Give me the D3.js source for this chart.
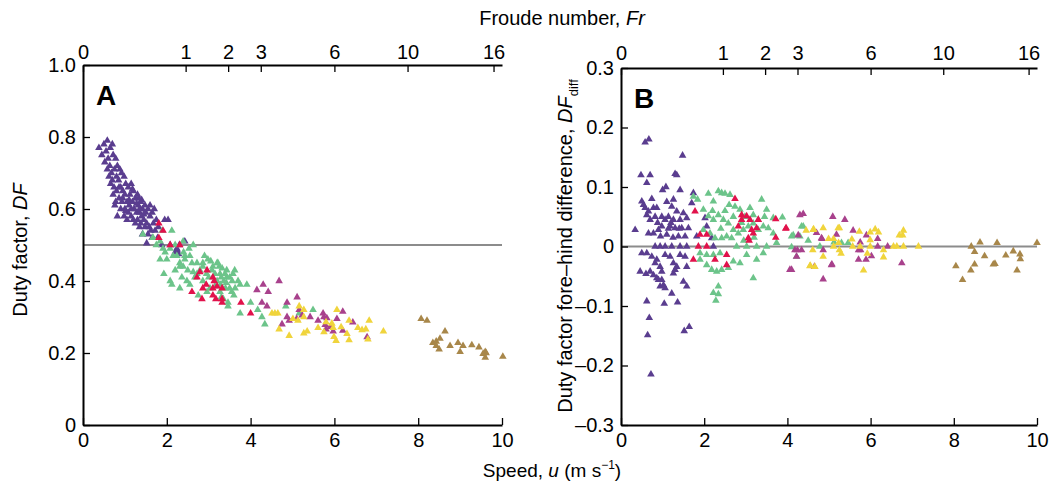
<!DOCTYPE html>
<html>
<head>
<meta charset="utf-8">
<script src="https://cdn.jsdelivr.net/npm/d3@7"></script>
<style>
  body { margin: 0; background: #fff; }
  svg text { font-family: "Liberation Sans", Arial, Helvetica, sans-serif; }
</style>
</head>
<body>
<svg id="chart" width="1052" height="482"></svg>
<script>
// Froude ticks on top axis, Fr = u^2 / (g h), g*h
var froudeTicks = [0, 1, 2, 3, 6, 10, 16]
var ghConst = 6.0
var speedTicks = [0, 2, 4, 6, 8, 10]
var dfTicks = [0, 0.2, 0.4, 0.6, 0.8, 1.0]
var diffTicks = [-0.3, -0.2, -0.1, 0, 0.1, 0.2, 0.3]

var groupColors = ["#5a3d8f", "#6cc48a", "#e1124b", "#a8418c", "#f0d43c", "#a8874a"]

// panel A: [speed, duty factor]
var purpleA = [[0.38,0.77],[0.5,0.78],[0.58,0.79],[0.65,0.77],[0.45,0.75],[0.55,0.76],[0.7,0.78],[0.6,0.74],[0.72,0.75],[0.52,0.73],
  [0.64,0.72],[0.78,0.74],[0.82,0.72],[0.68,0.7],[0.58,0.71],[0.75,0.71],[0.88,0.71],[0.62,0.69],[0.8,0.69],[0.92,0.7],
  [0.7,0.68],[0.85,0.68],[0.98,0.69],[0.74,0.66],[0.9,0.66],[1.02,0.67],[0.66,0.67],[0.8,0.65],[0.95,0.65],[1.08,0.66],
  [1.15,0.67],[0.72,0.64],[0.86,0.63],[1.0,0.64],[1.12,0.64],[1.2,0.65],[0.78,0.62],[0.93,0.62],[1.05,0.62],[1.18,0.62],
  [1.25,0.63],[1.3,0.64],[0.76,0.61],[0.82,0.58],[0.9,0.6],[1.0,0.6],[1.1,0.61],[1.22,0.6],[1.32,0.61],[1.38,0.62],
  [0.98,0.58],[1.08,0.59],[1.15,0.58],[1.28,0.59],[1.35,0.59],[1.42,0.6],[1.48,0.61],[1.2,0.57],[1.3,0.57],[1.4,0.58],
  [1.5,0.59],[1.55,0.6],[1.05,0.57],[1.25,0.56],[1.38,0.56],[1.45,0.57],[1.52,0.56],[1.6,0.58],[1.65,0.59],[1.35,0.55],
  [1.48,0.55],[1.58,0.55],[1.68,0.56],[1.75,0.57],[1.42,0.53],[1.55,0.53],[1.62,0.54],[1.72,0.54],[1.8,0.55],[1.95,0.57],
  [2.03,0.57],[1.52,0.505],[1.65,0.52],[1.78,0.52],[2.08,0.5],[2.24,0.49],[2.3,0.5],[2.43,0.51],[1.88,0.5],[1.15,0.6],
  [0.95,0.63],[1.18,0.655],[0.86,0.66],[1.28,0.615],[1.1,0.625],[1.35,0.6],[1.45,0.585],[1.02,0.595],[2.2,0.48],[2.25,0.485],
  [2.28,0.475],[1.4,0.625],[1.33,0.63],[1.6,0.61],[1.7,0.6]]
var greenA = [[1.43,0.53],[1.67,0.52],[1.84,0.51],[1.96,0.48],[2.15,0.47],[2.31,0.44],[2.43,0.47],[2.86,0.45],[3.22,0.45],[2.72,0.42],
  [1.84,0.46],[1.93,0.42],[2.12,0.39],[2.31,0.38],[3.75,0.39],[3.91,0.39],[3.75,0.31],[4.17,0.32],[4.27,0.3],[4.34,0.28],
  [4.84,0.33],[5.16,0.31],[5.49,0.32],[3.46,0.34],[2.72,0.45],[2.98,0.46],[3.2,0.45],[3.43,0.43],[3.58,0.42],[3.27,0.42],
  [3.5,0.38],[2.55,0.39],[2.75,0.36],[3.35,0.35],[2.67,0.41],[2.39,0.44],[2.43,0.46],[2.55,0.47],[2.08,0.49],[1.91,0.49],
  [2.53,0.49],[2.63,0.5],[1.67,0.52],[2.12,0.54],[1.89,0.54],[2.39,0.51],[2.24,0.47],[2.31,0.45],[2.2,0.43],[2.86,0.44],
  [3.08,0.43],[2.86,0.4],[3.03,0.38],[3.43,0.41],[3.2,0.4],[3.56,0.4],[3.63,0.38],[3.27,0.37],[3.46,0.33],[2.96,0.37],
  [2.48,0.4],[2.36,0.41],[2.08,0.4],[2.79,0.43],[2.63,0.425],[3.32,0.435],[3.39,0.42],[3.15,0.42],[3.3,0.41],[3.36,0.40],
  [3.42,0.395],[3.5,0.41],[3.28,0.39],[3.4,0.38],[3.55,0.37],[3.6,0.36],[3.1,0.44],[3.0,0.41],[2.2,0.5],[2.0,0.46],
  [2.5,0.43],[2.6,0.45],[2.4,0.48],[3.25,0.44],[3.62,0.43],[3.7,0.4],[2.9,0.47],[3.05,0.455],[4.0,0.34],[3.3,0.355],
  [2.95,0.42],[3.15,0.385],[1.75,0.5]]
var redA = [[1.81,0.56],[1.91,0.54],[1.81,0.52],[2.08,0.5],[2.31,0.5],[2.79,0.425],[2.96,0.43],[2.72,0.41],[3.1,0.41],[2.94,0.39],
  [2.86,0.38],[3.1,0.38],[3.2,0.385],[3.32,0.38],[2.6,0.37],[3.1,0.36],[2.84,0.35],[3.17,0.35],[3.32,0.35],[3.32,0.34],
  [3.77,0.34],[4.0,0.31],[3.13,0.4]]
var magentaA = [[4.68,0.4],[4.15,0.375],[4.3,0.39],[4.42,0.37],[4.27,0.34],[4.39,0.33],[4.87,0.34],[5.11,0.355],[5.16,0.32],[4.87,0.3],
  [4.92,0.29],[4.75,0.28],[5.23,0.305],[5.42,0.3],[5.73,0.31],[5.75,0.3],[5.61,0.29],[5.82,0.297],[6.06,0.295],[6.2,0.315],
  [6.44,0.285],[5.78,0.278],[5.9,0.273],[5.8,0.266],[5.97,0.26],[6.2,0.262],[6.78,0.244],[5.1,0.295]]
var yellowA = [[4.51,0.31],[4.65,0.31],[4.58,0.31],[5.16,0.33],[5.27,0.32],[5.01,0.295],[5.13,0.29],[5.27,0.3],[4.68,0.266],[4.92,0.248],
  [5.27,0.255],[5.35,0.26],[5.61,0.27],[5.75,0.258],[5.94,0.282],[5.97,0.27],[6.06,0.32],[6.16,0.272],[6.3,0.253],[6.35,0.29],
  [6.56,0.27],[6.66,0.264],[6.75,0.266],[6.83,0.29],[7.17,0.26],[5.99,0.245],[6.04,0.234],[6.35,0.236],[6.8,0.238],[5.8,0.286]]
var brownA = [[8.07,0.295],[8.21,0.29],[8.64,0.26],[8.52,0.24],[8.35,0.228],[8.43,0.232],[8.43,0.22],[8.5,0.21],[8.76,0.22],[8.95,0.228],
  [9.07,0.22],[9.0,0.203],[9.28,0.222],[9.45,0.216],[9.6,0.203],[9.62,0.2],[9.55,0.198],[9.6,0.187],[10.02,0.19]]

// panel B: [speed, fore-hind duty factor difference]
var purpleB = [[0.34,0.028],[0.48,0.12],[0.58,0.175],[0.67,0.18],[0.7,0.12],[0.62,0.107],[0.5,0.076],[0.54,0.07],[0.58,0.065],[0.66,0.059],
  [0.78,0.065],[0.86,0.065],[0.62,0.053],[0.7,0.045],[0.82,0.05],[0.66,0.022],[0.78,0.022],[0.9,0.028],[0.98,0.034],[1.06,0.045],
  [1.14,0.05],[0.98,0.05],[1.08,0.1],[1.0,0.095],[1.3,0.122],[1.34,0.12],[1.48,0.153],[1.42,0.095],[1.26,0.079],[1.22,0.067],
  [1.34,0.059],[1.5,0.056],[1.58,0.048],[1.42,0.045],[1.26,0.045],[1.18,0.034],[1.3,0.031],[1.46,0.031],[1.62,0.031],[1.38,0.017],
  [1.54,0.017],[1.1,0.02],[0.95,0.017],[1.74,0.09],[1.7,0.073],[0.82,0],[0.94,0],[1.06,0],[1.22,0],[1.42,0],
  [1.58,0],[0.5,-0.011],[0.62,-0.011],[0.74,-0.017],[0.86,-0.022],[0.82,-0.028],[0.94,-0.034],[0.98,-0.042],[1.06,-0.014],[1.18,-0.017],
  [1.26,-0.028],[1.34,-0.034],[1.42,-0.014],[1.54,-0.017],[1.58,-0.034],[1.26,-0.045],[1.3,-0.039],[0.46,-0.042],[0.6,-0.046],[0.7,-0.042],
  [0.78,-0.048],[0.86,-0.053],[0.98,-0.056],[1.02,-0.065],[1.06,-0.07],[1.22,-0.079],[1.58,-0.067],[1.5,-0.059],[0.94,-0.067],[0.62,-0.092],
  [1.04,-0.096],[1.36,-0.094],[0.68,-0.12],[0.64,-0.149],[1.52,-0.142],[1.64,-0.135],[0.72,-0.215],[0.9,-0.056],[2.06,0.034],[2.02,0.048],
  [2.18,0.014],[2.22,0],[1.82,0.017],[1.14,0.03],[1.2,0.04],[1.4,0.03],[1.25,0.015],[0.88,0.04],[1.1,0.075],[0.74,0.08]]
var greenB = [[1.74,0.084],[1.84,0.079],[1.98,0.062],[2.1,0.089],[2.22,0.076],[2.34,0.093],[2.42,0.09],[2.5,0.089],[2.62,0.087],[2.74,0.067],
  [2.86,0.062],[2.98,0.05],[3.18,0.053],[3.38,0.079],[3.5,0.062],[3.66,0.048],[3.88,0.049],[2.1,0.051],[2.22,0.045],[2.34,0.053],
  [2.46,0.045],[2.58,0.039],[2.7,0.028],[2.82,0.022],[2.94,0.028],[3.06,0.034],[3.18,0.039],[3.3,0.028],[3.42,0.034],[3.54,0.031],
  [3.66,0.022],[1.98,0.028],[2.14,0.022],[2.26,0.014],[2.42,0.014],[2.54,0.017],[2.66,0.014],[2.78,0],[3.02,0],[3.26,0],
  [3.5,0],[3.74,0.006],[1.9,-0.011],[2.06,-0.014],[2.22,-0.014],[2.38,-0.011],[1.9,-0.022],[2.06,-0.031],[2.18,-0.039],[2.3,-0.042],
  [2.42,-0.039],[2.58,-0.036],[2.7,-0.025],[2.86,-0.028],[3.02,-0.014],[3.26,-0.022],[3.42,-0.011],[3.18,-0.053],[2.34,-0.067],[2.22,-0.078],
  [2.34,-0.08],[2.28,-0.091],[4.1,0.017],[4.34,0.034],[4.5,0.01],[4.38,0.034],[4.14,0.019],[4.3,0.017],[4.1,-0.001],[4.22,-0.017],
  [4.78,0],[5.12,0.007],[5.3,0.006],[5.46,0.006],[2.5,0.06],[2.7,0.05],[2.9,0.04],[3.1,0.065],[3.3,0.045],[2.4,0.03],
  [2.6,0.07],[2.2,0.06],[3.45,0.05],[3.2,0.015],[2.95,0.01]]
var redB = [[1.78,0.059],[1.9,0.02],[2.06,0.02],[1.86,0],[2.06,0],[2.26,-0.022],[2.54,-0.014],[2.54,-0.031],[2.74,0.08],[2.9,0.053],
  [2.9,0.045],[3.02,0.051],[3.1,0.045],[3.18,0.022],[3.3,0.045],[3.26,0.031],[3.06,0.014],[3.08,0.01],[3.72,0.046],[3.72,0.015],
  [3.96,0.03],[1.74,-0.022],[2.82,0.034],[3.14,0.028],[3.97,0.031]]
var magentaB = [[4.38,0.055],[5.09,0.05],[5.38,0.045],[4.7,0.023],[4.26,0.019],[4.83,0.013],[5.18,0.02],[5.58,0.027],[5.9,0.019],[6.17,0.013],
  [5.75,0.007],[4.24,-0.006],[4.34,-0.006],[4.86,-0.006],[5.71,-0.006],[5.76,-0.006],[6.17,0],[6.41,0],[6.02,-0.016],[5.71,-0.022],
  [5.89,-0.022],[4.1,-0.039],[4.65,-0.034],[5.07,-0.03],[4.86,-0.055],[6.75,-0.028],[4.3,0.053],[4.06,-0.039],[4.18,-0.006],[4.22,-0.017],
  [5.06,-0.031],[4.82,0.014]]
var yellowB = [[4.45,0.027],[4.63,0.029],[4.99,0.013],[5.11,0.013],[5.25,0.031],[5.23,0.006],[5.55,0.012],[5.73,0.025],[5.99,0.024],[6.11,0.029],
  [6.19,0.024],[5.99,0.011],[5.75,0],[5.11,0],[5.57,0],[5.99,0],[6.55,0],[6.63,0],[6.79,0],[7.15,0],
  [4.61,-0.006],[5.25,-0.006],[5.29,-0.012],[4.86,-0.017],[5.92,-0.012],[6.31,-0.006],[6.31,-0.018],[4.55,-0.032],[5.83,-0.04],[6.69,0.019],
  [6.79,0.027],[6.77,0.019],[4.62,0.028],[4.86,0.031],[5.22,0.031],[4.54,-0.033],[4.66,-0.034]]
var brownB = [[8.63,0.007],[9.04,0.006],[10.0,0.006],[8.42,0],[8.5,-0.009],[8.74,-0.016],[8.05,-0.033],[8.21,-0.056],[8.41,-0.04],[8.5,-0.03],
  [8.95,-0.03],[8.99,-0.029],[9.25,-0.015],[9.43,-0.008],[9.59,-0.013],[9.6,-0.021],[9.52,-0.04]]

var svg = d3.select("#chart")
var tickLen = 7
var fontSize = 20

function tickFmt(v) {
  if (v === 0) return "0"
  var s = d3.format(".1f")(Math.abs(v))
  return (v < 0 ? "\u2013" : "") + s
}

function drawPanel(cfg) {
  var x = d3.scaleLinear().domain([0, 10]).range([cfg.left, cfg.right])
  var y = d3.scaleLinear().domain(cfg.yDomain).range([cfg.bottom, cfg.top])
  var xFr = d3.scaleSqrt().domain([0, 100 / ghConst]).range([cfg.left, cfg.right])
  var g = svg.append("g")

  // reference line
  g.append("line")
    .attr("x1", x(0)).attr("x2", x(10))
    .attr("y1", y(cfg.refLine)).attr("y2", y(cfg.refLine))
    .attr("stroke", "#8c8c8c").attr("stroke-width", 2)

  var tri = d3.symbol().type(d3.symbolTriangle).size(25)
  cfg.groups.forEach(function(pts, i) {
    g.append("g").selectAll("path").data(pts).join("path")
      .attr("d", tri)
      .attr("transform", function(d) { return "translate(" + x(d[0]) + "," + y(d[1]) + ")" })
      .attr("fill", groupColors[i])
  })

  var bottomAxis = g.append("g").attr("transform", "translate(0," + cfg.bottom + ")")
    .call(d3.axisBottom(x).tickValues(speedTicks).tickSize(-tickLen).tickSizeOuter(0).tickPadding(8).tickFormat(d3.format("d")))
  var topAxis = g.append("g").attr("transform", "translate(0," + cfg.top + ")")
    .call(d3.axisTop(xFr).tickValues(froudeTicks).tickSize(-tickLen).tickSizeOuter(0).tickPadding(cfg.topPad).tickFormat(d3.format("d")))
  var leftAxis = g.append("g").attr("transform", "translate(" + cfg.left + ",0)")
    .call(d3.axisLeft(y).tickValues(cfg.yTicks).tickSize(-tickLen).tickSizeOuter(0).tickPadding(7).tickFormat(tickFmt))

  ;[bottomAxis, topAxis, leftAxis].forEach(function(a) {
    a.select(".domain").attr("stroke", "#000").attr("stroke-width", 2)
    a.selectAll(".tick line").attr("stroke", "#000").attr("stroke-width", 1.3)
    a.selectAll(".tick text").attr("fill", "#000").style("font-size", fontSize + "px")
      .style("font-family", "'Liberation Sans', Arial, sans-serif")
  })

  g.append("text")
    .attr("x", cfg.left + 13).attr("y", cfg.top + 40)
    .attr("font-size", 28).attr("font-weight", "bold")
    .text(cfg.letter)
}

drawPanel({ left: 83, right: 502, top: 65, bottom: 425, yDomain: [0, 1], yTicks: dfTicks, refLine: 0.5, topPad: 6,
  groups: [purpleA, greenA, redA, magentaA, yellowA, brownA], letter: "A" })
drawPanel({ left: 621, right: 1037, top: 68, bottom: 425, yDomain: [-0.3, 0.3], yTicks: diffTicks, refLine: 0, topPad: 8,
  groups: [purpleB, greenB, redB, magentaB, yellowB, brownB], letter: "B" })

// axis titles
var t1 = svg.append("text").attr("x", 562).attr("y", 25).attr("text-anchor", "middle").attr("font-size", fontSize)
t1.append("tspan").text("Froude number, ")
t1.append("tspan").attr("font-style", "italic").text("Fr")

var t2 = svg.append("text").attr("x", 552).attr("y", 477).attr("text-anchor", "middle").attr("font-size", 19)
t2.append("tspan").text("Speed, ")
t2.append("tspan").attr("font-style", "italic").text("u")
t2.append("tspan").text(" (m s")
t2.append("tspan").attr("font-size", 12).attr("dy", -8).text("\u22121")
t2.append("tspan").attr("dy", 8).text(")")

var t3 = svg.append("text").attr("transform", "translate(27,250) rotate(-90)").attr("text-anchor", "middle").attr("font-size", fontSize)
t3.append("tspan").text("Duty factor, ")
t3.append("tspan").attr("font-style", "italic").text("DF")

var t4 = svg.append("text").attr("transform", "translate(572,246) rotate(-90)").attr("text-anchor", "middle").attr("font-size", fontSize)
t4.append("tspan").text("Duty factor fore\u2013hind difference, ")
t4.append("tspan").attr("font-style", "italic").text("DF")
t4.append("tspan").attr("font-size", 13).attr("dy", 6).text("diff")
</script>
</body>
</html>
